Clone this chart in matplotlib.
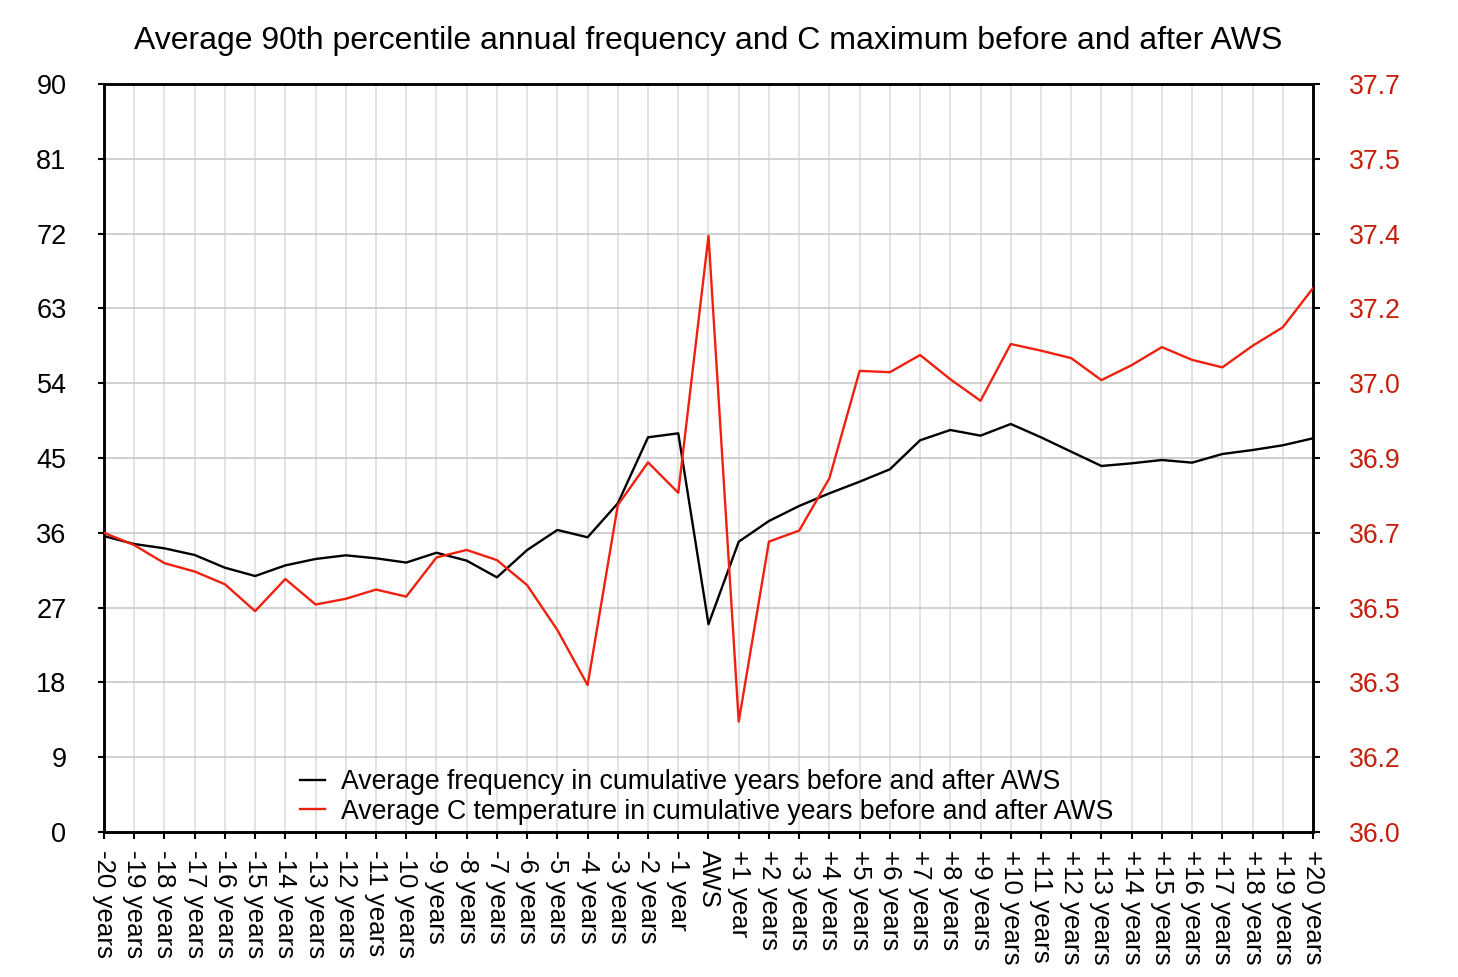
import matplotlib
matplotlib.use("Agg")
import matplotlib.pyplot as plt
import numpy as np

plt.rcParams['font.family'] = ['Liberation Sans', 'DejaVu Sans']

categories = (["-%d years" % i for i in range(20, 1, -1)] + ["-1 year", "AWS", "+1 year"]
              + ["+%d years" % i for i in range(2, 21)])

frequency = [35.6, 34.65, 34.13, 33.33, 31.8, 30.8, 32.08, 32.85, 33.29, 32.93,
             32.42, 33.6, 32.65, 30.64, 33.93, 36.34, 35.46, 39.55, 47.49, 47.97,
             25.0, 34.93, 37.42, 39.23, 40.75, 42.15, 43.64, 47.13, 48.37, 47.69,
             49.09, 47.49, 45.76, 44.04, 44.36, 44.76, 44.44, 45.48, 45.96, 46.53,
             47.37]

temperature = [36.680, 36.652, 36.611, 36.592, 36.563, 36.502, 36.575, 36.517, 36.530, 36.551,
               36.535, 36.624, 36.641, 36.618, 36.561, 36.459, 36.334, 36.743, 36.840, 36.771,
               37.355, 36.251, 36.660, 36.685, 36.804, 37.048, 37.045, 37.084, 37.029, 36.980,
               37.109, 37.094, 37.077, 37.027, 37.061, 37.102, 37.073, 37.056, 37.105, 37.147,
               37.236]

left_ticks = [0, 9, 18, 27, 36, 45, 54, 63, 72, 81, 90]
right_ticks = [36.0, 36.17, 36.34, 36.51, 36.68, 36.85, 37.02, 37.19, 37.36, 37.53, 37.7]
right_labels = ["36.0", "36.2", "36.3", "36.5", "36.7", "36.9", "37.0", "37.2", "37.4", "37.5", "37.7"]

title = "Average 90th percentile annual frequency and C maximum before and after AWS"
label_freq = "Average frequency in cumulative years before and after AWS"
label_temp = "Average C temperature in cumulative years before and after AWS"

RED = "#f0200f"
RED_TXT = "#c4200e"

fig = plt.figure(figsize=(14.58, 9.77), dpi=100)
ax = fig.add_axes([104/1458, 1-832/977, (1313-104)/1458, (832-84)/977])
ax2 = ax.twinx()

x = np.arange(len(categories))
l1, = ax.plot(x, frequency, color="black", lw=1.7, zorder=3)
l2, = ax2.plot(x, temperature, color=RED, lw=1.7, zorder=3)

ax.set_xlim(0, len(categories) - 1)
ax.set_ylim(0, 90)
ax2.set_ylim(36.0, 37.7)

ax.set_xticks(x)
ax.set_xticklabels(categories, rotation=270, ha="center", va="top", fontsize=18.6)
ax.set_yticks(left_ticks)
ax.set_yticklabels([str(v) for v in left_ticks], fontsize=19.5)
ax2.set_yticks(right_ticks)
ax2.set_yticklabels(right_labels, fontsize=19.2, color=RED_TXT)

ax.grid(axis="x", color="#dedede", lw=1.2)
ax.grid(axis="y", color="#c8c8c8", lw=1.2)
ax.set_axisbelow(True)

ax.tick_params(axis="y", direction="out", length=4, width=1.5, pad=23)
ax.tick_params(axis="x", direction="out", length=5, width=1.5, pad=8)
ax2.tick_params(axis="y", direction="out", length=5, width=1.5, pad=21, colors=RED_TXT)
ax2.tick_params(axis="y", color="black")

for a in (ax, ax2):
    for s in a.spines.values():
        s.set_linewidth(1.8)
        s.set_color("black")

ax.set_title(title, fontsize=23, pad=25)

fig.legend([l1, l2], [label_freq, label_temp], loc="upper left",
           bbox_to_anchor=(300/1458, 1-769/977), frameon=False, fontsize=19.2,
           borderpad=0, borderaxespad=0, handlelength=0.95, handletextpad=0.6,
           labelspacing=0.14)

fig.savefig("out.png", dpi=100)
